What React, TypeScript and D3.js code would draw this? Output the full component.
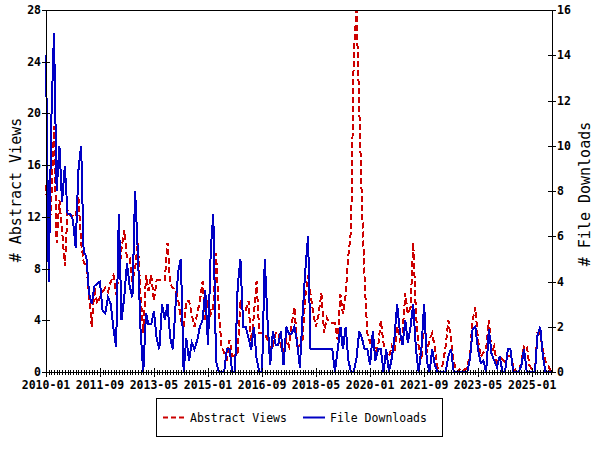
import React from 'react';
import * as d3 from 'd3';

// Monthly values starting 2010-01
const viewsValues: number[] = [
  14.5, 10.0, 13.0, 19.0, 10.0, 13.3, 11.0, 8.2, 12.5, 12.1,
  12.1, 12.0, 13.5, 10.0, 8.5, 8.2, 6.0, 3.5, 6.5, 5.3,
  5.8, 6.2, 6.5, 6.2, 7.0, 7.5, 6.0, 7.5, 9.5, 11.0,
  8.8, 8.8, 7.0, 8.0, 10.0, 6.0, 3.0, 7.5, 6.3, 7.5,
  5.5, 7.1, 7.1, 7.1, 7.1, 10.0, 6.8, 6.5, 6.4, 5.5,
  4.0, 3.5, 5.5, 5.5, 4.5, 3.5, 4.5, 5.5, 7.0, 4.0,
  5.6, 4.5, 5.0, 9.2, 5.0, 2.0, 1.5, 1.0, 2.5, 1.2,
  1.3, 1.5, 5.6, 4.5, 4.8, 5.5, 2.0, 4.5, 7.0, 3.0,
  3.0, 3.0, 2.5, 1.8, 2.0, 3.0, 3.1, 2.0, 1.5, 2.5,
  2.0, 3.7, 5.0, 2.0, 2.0, 2.5, 5.8, 7.5, 6.0, 4.5,
  3.5, 4.5, 6.1, 3.0, 4.2, 3.8, 3.8, 3.8, 2.5, 6.0,
  4.5, 6.0, 9.0, 11.0, 24.5, 28.0, 20.5, 13.0, 7.0, 3.0,
  2.3, 2.8, 1.5, 2.0, 4.0, 2.2, 1.5, 1.2, 2.0, 1.5,
  3.5, 2.5, 3.0, 6.1, 4.5, 5.0, 10.0, 4.5, 2.0, 1.0,
  4.6, 1.5, 2.5, 3.0, 1.8, 0.3, 0.3, 0.6, 2.0, 4.0,
  2.5, 0.8, 0, 0.2, 0, 0.2, 0.3, 1.5, 4.0, 5.0,
  2.5, 1.2, 1.5, 1.8, 4.0, 1.5, 2.0, 0.5, 1.2, 1.0,
  0.8, 1.2, 1.2, 0.5, 0, 0, 0.8, 2.0, 2.0, 0.5,
  0.2, 0.2, 3.0, 3.0, 1.7, 0.8, 0.5, 0,
];

const downloadsValues: number[] = [
  14.0, 4.0, 11.0, 15.0, 8.0, 10.0, 7.5, 9.1, 7.0, 7.0,
  6.7, 5.5, 8.9, 10.0, 5.3, 5.1, 3.5, 3.0, 3.8, 3.9,
  4.0, 2.7, 2.6, 3.3, 3.0, 1.9, 1.1, 7.0, 2.3, 3.3,
  4.8, 3.8, 3.3, 8.0, 5.3, 1.9, 0, 2.6, 2.1, 2.1,
  2.7, 1.5, 1.0, 3.0, 2.3, 3.0, 1.5, 1.0, 3.0, 4.5,
  5.0, 0, 1.5, 0.5, 1.3, 1.0, 1.4, 2.0, 2.3, 3.6,
  1.2, 5.4, 7.0, 0.5, 0, 0, 0, 1.0, 1.0, 0,
  0, 3.8, 5.0, 2.0, 2.0, 1.5, 1.0, 2.0, 0.6, 0,
  0, 5.0, 2.3, 0.3, 1.8, 1.2, 1.2, 1.8, 0.3, 2.0,
  1.7, 1.7, 2.0, 1.3, 0.2, 2.5, 4.5, 6.0, 1.0, 1.0,
  1.0, 1.0, 1.0, 1.0, 1.0, 1.0, 1.0, 0, 1.0, 2.0,
  1.0, 2.0, 0.5, 0, 0, 0.6, 1.8, 1.5, 1.0, 1.0,
  0.3, 1.8, 0.5, 1.0, 1.0, 0, 1.0, 0, 0.6, 1.5,
  3.0, 1.8, 1.2, 2.3, 1.3, 2.0, 3.0, 1.0, 0, 1.0,
  3.0, 0.5, 0, 1.0, 0.3, 0, 0, 0, 0, 0.7,
  1.0, 0, 0, 0, 0, 0, 0, 0.6, 1.9, 2.0,
  1.0, 0.4, 0.5, 0, 1.9, 0.8, 0.5, 0.2, 0.7, 0,
  0, 1.0, 1.0, 0, 0, 0, 0.3, 1.0, 0, 0,
  0, 0, 1.6, 2.0, 0.7, 0, 0, 0,
];

const xTickLabels = ['2010-01', '2011-09', '2013-05', '2015-01', '2016-09', '2018-05', '2020-01', '2021-09', '2023-05', '2025-01'];
const leftTicks = [0, 4, 8, 12, 16, 20, 24, 28];
const rightTicks = [0, 2, 4, 6, 8, 10, 12, 14, 16];
const seriesNames = ['Abstract Views', 'File Downloads'];

const RED = '#cc0000';
const BLUE = '#0000c4';
const FONT = '"DejaVu Sans Mono", "Liberation Mono", monospace';

export default function App() {
  const W = 600, H = 450;
  const L = 46, R = 552, T = 10, B = 372;
  const start = new Date(2010, 0, 1);
  const end = new Date(2025, 7, 12);
  const x = d3.scaleTime().domain([start, end]).range([L, R]);
  const yL = d3.scaleLinear().domain([0, 28]).range([B, T]);
  const yR = d3.scaleLinear().domain([0, 16]).range([B, T]);
  const dates = viewsValues.map((_, i) => d3.timeMonth.offset(start, i));
  const parse = d3.timeParse('%Y-%m');

  const viewsLine = d3.line<number>().x((_, i) => x(dates[i])).y(d => yL(d));
  const dlLine = d3.line<number>().x((_, i) => x(dates[i])).y(d => yR(d));

  const minorTicks = d3.timeMonth.range(start, end);

  return (
    <svg width={W} height={H} style={{ position: 'absolute', left: 0, top: 0, background: '#fff' }}>
      <rect x={0} y={0} width={W} height={H} fill="#fff" />
      {/* data */}
      <path d={viewsLine(viewsValues) || ''} fill="none" stroke={RED} strokeWidth={2} strokeDasharray="6,3" shapeRendering="crispEdges" />
      <path d={dlLine(downloadsValues) || ''} fill="none" stroke={BLUE} strokeWidth={2} shapeRendering="crispEdges" />
      {/* frame */}
      <g stroke="#000" strokeWidth={1} shapeRendering="crispEdges">
        <line x1={L} y1={T} x2={R} y2={T} />
        <line x1={L} y1={T} x2={L} y2={B} />
        <line x1={R} y1={T} x2={R} y2={B} />
        <line x1={L} y1={B} x2={R} y2={B} />
        {minorTicks.map((d, i) => (
          <line key={'m' + i} x1={Math.round(x(d))} x2={Math.round(x(d))} y1={B - 2} y2={B + 3} />
        ))}
        {xTickLabels.map((s, i) => {
          const px = Math.round(x(parse(s) as Date));
          return <line key={'M' + i} x1={px} x2={px} y1={B - 4} y2={B + 5} />;
        })}
        {leftTicks.map((v, i) => (
          <line key={'l' + i} x1={L - 4} x2={L + 4} y1={Math.round(yL(v))} y2={Math.round(yL(v))} />
        ))}
        {rightTicks.map((v, i) => (
          <line key={'r' + i} x1={R - 4} x2={R + 4} y1={Math.round(yR(v))} y2={Math.round(yR(v))} />
        ))}
      </g>
      {/* tick labels */}
      <g fontFamily={FONT} fontWeight="bold" fontSize={11.5} fill="#000">
        {xTickLabels.map((s, i) => (
          <text key={'xl' + i} x={x(parse(s) as Date)} y={389} textAnchor="middle">{s}</text>
        ))}
        {leftTicks.map((v, i) => (
          <text key={'ll' + i} x={41} y={yL(v) + 4} textAnchor="end">{v}</text>
        ))}
        {rightTicks.map((v, i) => (
          <text key={'rl' + i} x={557} y={yR(v) + 4} textAnchor="start">{v}</text>
        ))}
      </g>
      {/* axis titles */}
      <text fontFamily={FONT} fontSize={15} fill="#000" textAnchor="middle" transform={`translate(21,190) rotate(-90)`}>
        # Abstract Views
      </text>
      <text fontFamily={FONT} fontSize={15} fill="#000" textAnchor="middle" transform={`translate(590,194) rotate(-90)`}>
        # File Downloads
      </text>
      {/* legend */}
      <rect x={156.5} y={398.5} width={286} height={38} fill="#fff" stroke="#000" strokeWidth={1} />
      <line x1={163} x2={184} y1={417.5} y2={417.5} stroke={RED} strokeWidth={2} strokeDasharray="5,3" />
      <line x1={303} x2={325} y1={417.5} y2={417.5} stroke={BLUE} strokeWidth={2} />
      <g fontFamily={FONT} fontSize={11.5} fill="#000">
        <text x={190} y={422}>{seriesNames[0]}</text>
        <text x={330} y={422}>{seriesNames[1]}</text>
      </g>
    </svg>
  );
}
